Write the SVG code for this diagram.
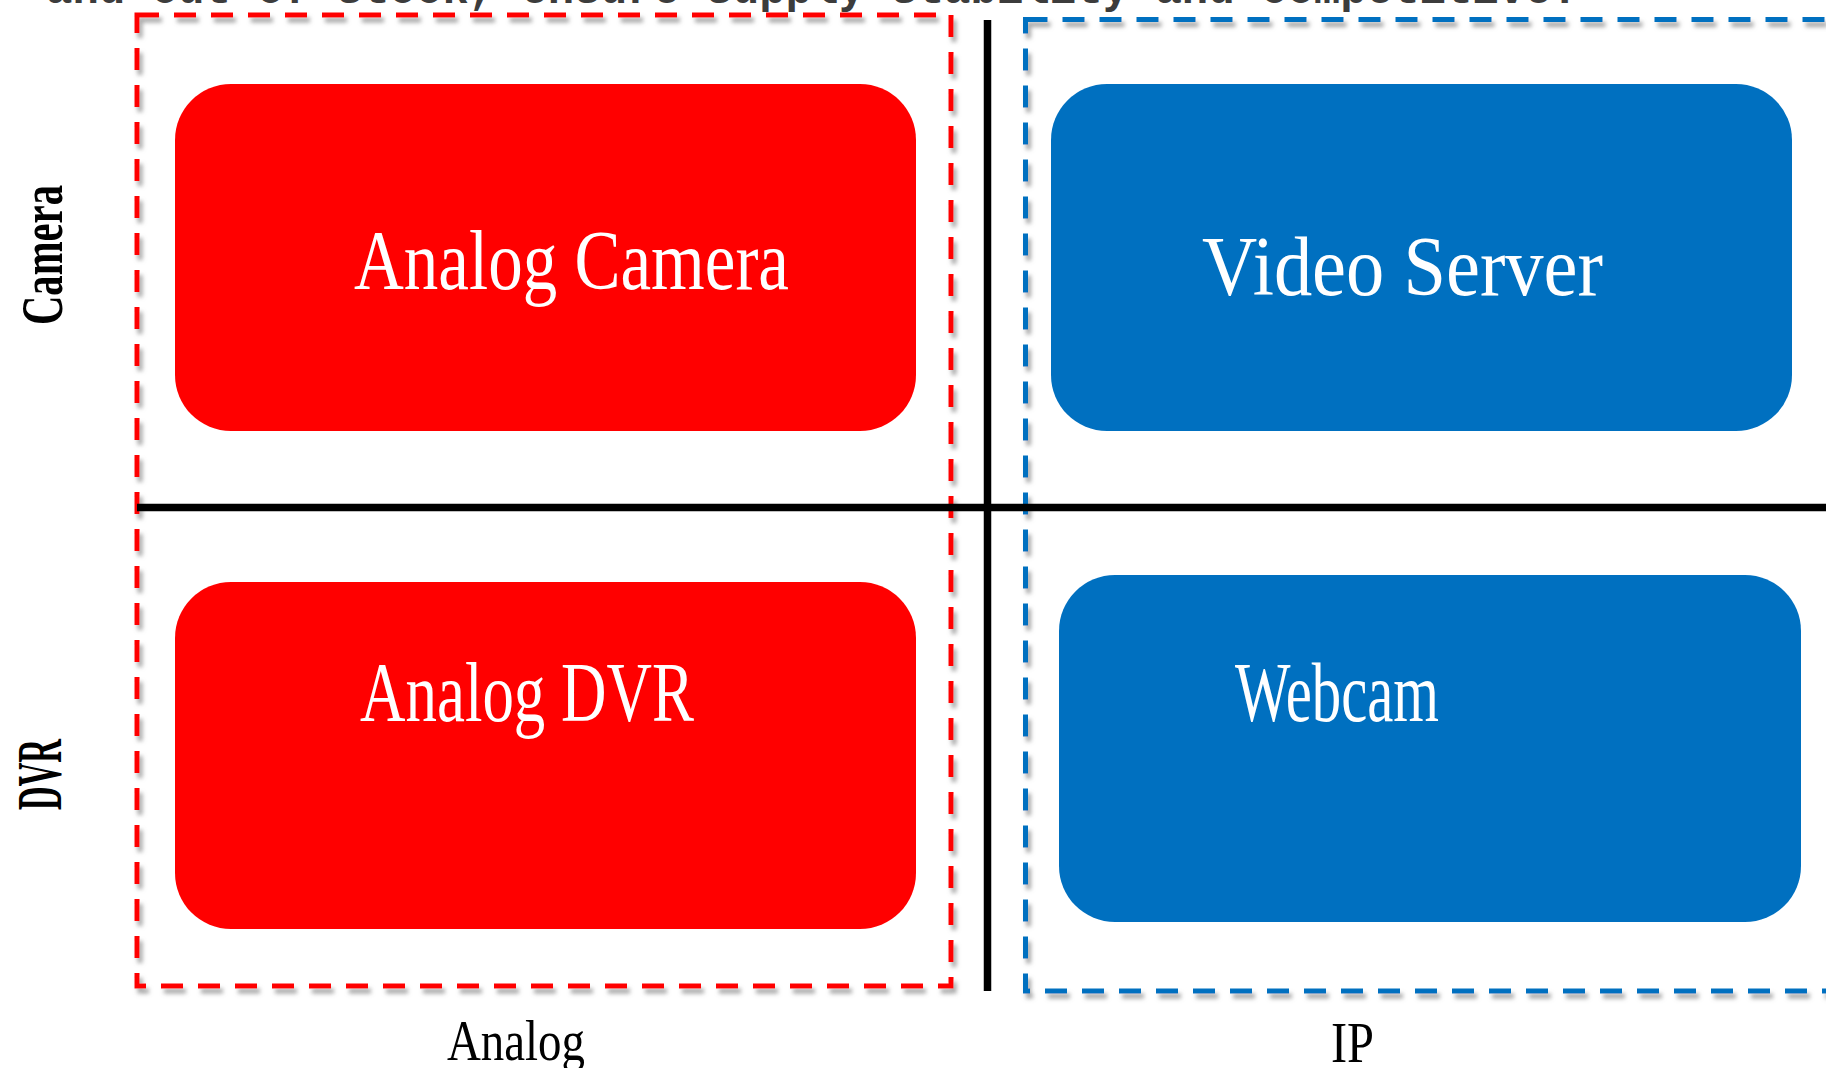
<svg xmlns="http://www.w3.org/2000/svg" width="1826" height="1068" viewBox="0 0 1826 1068">
  <style>
    .node-text { font-family: "Liberation Serif", "DejaVu Serif", serif; font-size: 85px; fill: #FFFFFF; }
    .axis-label { font-family: "Liberation Serif", "DejaVu Serif", serif; fill: #000000; }
    .frame { fill: none; stroke-width: 5; stroke-dasharray: 22 15; filter: url(#shadow); }
    .axis { stroke: #000000; stroke-width: 7.5; fill: none; }
  </style>
  <defs>
    <filter id="shadow" x="-5%" y="-5%" width="110%" height="110%">
      <feDropShadow dx="3" dy="5" stdDeviation="2.2" flood-color="#808080" flood-opacity="0.7"/>
    </filter>
  </defs>
  <rect width="1826" height="1068" fill="#FFFFFF"/>

  <text x="46" y="3" font-family="Liberation Mono, monospace" font-weight="bold" font-size="44" fill="#3c3c3c" textLength="1532" lengthAdjust="spacingAndGlyphs">and out of stock, ensure supply stability and competitive.</text>

  <g id="frames">
    <rect id="analog-frame" class="frame" x="137" y="15" width="814" height="971" stroke="#FF0000"/>
    <rect id="ip-frame" class="frame" x="1025.5" y="19.5" width="830" height="971.5" stroke="#0070C0"/>
  </g>

  <g id="connectors">
    <line class="axis" x1="987.5" y1="20" x2="987.5" y2="991"/>
    <line class="axis" x1="137" y1="507.5" x2="1826" y2="507.5"/>
  </g>

  <g id="node-analog-camera">
    <rect x="175" y="84" width="741" height="347" rx="56" ry="56" fill="#FF0000"/>
    <text class="node-text" x="354" y="289" textLength="435" lengthAdjust="spacingAndGlyphs">Analog Camera</text>
  </g>
  <g id="node-video-server">
    <rect x="1051" y="84" width="741" height="347" rx="56" ry="56" fill="#0070C0"/>
    <text class="node-text" x="1202" y="295" textLength="401" lengthAdjust="spacingAndGlyphs">Video Server</text>
  </g>
  <g id="node-analog-dvr">
    <rect x="175" y="582" width="741" height="347" rx="56" ry="56" fill="#FF0000"/>
    <text class="node-text" x="360" y="721" textLength="334" lengthAdjust="spacingAndGlyphs">Analog DVR</text>
  </g>
  <g id="node-webcam">
    <rect x="1059" y="575" width="742" height="347" rx="56" ry="56" fill="#0070C0"/>
    <text class="node-text" x="1235" y="721" textLength="204" lengthAdjust="spacingAndGlyphs">Webcam</text>
  </g>

  <g id="labels">
    <text class="axis-label" transform="translate(62,325) rotate(-90)" font-size="60" font-weight="bold" textLength="140" lengthAdjust="spacingAndGlyphs">Camera</text>
    <text class="axis-label" transform="translate(61,810) rotate(-90)" font-size="64" font-weight="bold" textLength="71" lengthAdjust="spacingAndGlyphs">DVR</text>
    <text class="axis-label" x="447" y="1060" font-size="58" textLength="138" lengthAdjust="spacingAndGlyphs">Analog</text>
    <text class="axis-label" x="1331" y="1062" font-size="58" textLength="43" lengthAdjust="spacingAndGlyphs">IP</text>
  </g>
</svg>
